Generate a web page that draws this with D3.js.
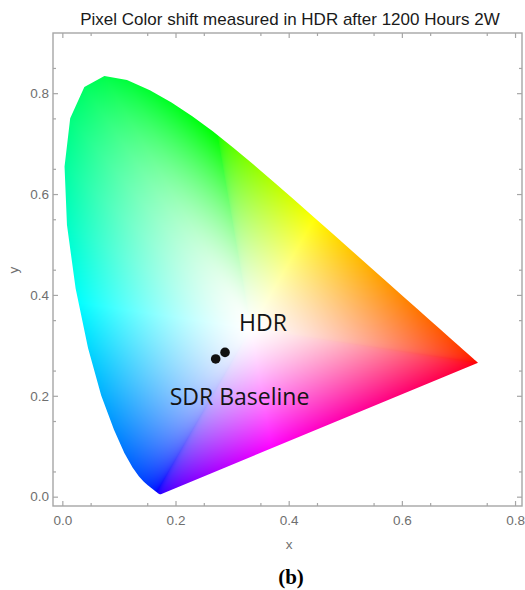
<!DOCTYPE html>
<html>
<head>
  <meta charset="utf-8">
  <title>Pixel Color shift measured in HDR after 1200 Hours 2W</title>
  <script src="https://d3js.org/d3.v7.min.js"></script>
  <style>
    body { margin: 0; background: #fff; }
  </style>
</head>
<body>
  <svg id="chart" width="525" height="590"></svg>

  <script>
    // CIE 1931 spectral locus, 380-700 nm in 5 nm steps
    var locusX = [0.1741, 0.1740, 0.1738, 0.1736, 0.1733, 0.1730, 0.1726, 0.1721, 0.1714, 0.1703,
                  0.1689, 0.1669, 0.1644, 0.1611, 0.1566, 0.1510, 0.1440, 0.1355, 0.1241, 0.1096,
                  0.0913, 0.0687, 0.0454, 0.0235, 0.0082, 0.0039, 0.0139, 0.0389, 0.0743, 0.1142,
                  0.1547, 0.1929, 0.2296, 0.2658, 0.3016, 0.3373, 0.3731, 0.4087, 0.4441, 0.4788,
                  0.5125, 0.5448, 0.5752, 0.6029, 0.6270, 0.6482, 0.6658, 0.6801, 0.6915, 0.7006,
                  0.7079, 0.7140, 0.7190, 0.7230, 0.7260, 0.7283, 0.7300, 0.7311, 0.7320, 0.7327,
                  0.7334, 0.7340, 0.7344, 0.7346, 0.7347];
    var locusY = [0.0050, 0.0050, 0.0049, 0.0049, 0.0048, 0.0048, 0.0048, 0.0048, 0.0051, 0.0058,
                  0.0069, 0.0086, 0.0109, 0.0138, 0.0177, 0.0227, 0.0297, 0.0399, 0.0578, 0.0868,
                  0.1327, 0.2007, 0.2950, 0.4127, 0.5384, 0.6548, 0.7502, 0.8120, 0.8338, 0.8262,
                  0.8059, 0.7816, 0.7543, 0.7243, 0.6923, 0.6589, 0.6245, 0.5896, 0.5547, 0.5202,
                  0.4866, 0.4544, 0.4242, 0.3965, 0.3725, 0.3514, 0.3340, 0.3197, 0.3083, 0.2993,
                  0.2920, 0.2859, 0.2809, 0.2770, 0.2740, 0.2717, 0.2700, 0.2689, 0.2680, 0.2673,
                  0.2666, 0.2660, 0.2656, 0.2654, 0.2653];

    // measured chromaticity points
    var pointNames = ["SDR Baseline", "HDR"];
    var pointX = [0.271, 0.2875];
    var pointY = [0.273, 0.286];

    var xTicks = [0.0, 0.2, 0.4, 0.6, 0.8];
    var yTicks = [0.0, 0.2, 0.4, 0.6, 0.8];

    var W = 525, H = 590;
    var whiteX = 1 / 3, whiteY = 1 / 3;

    var svg = d3.select("#chart");

    // scales cover the whole frame
    var x = d3.scaleLinear().domain([-0.0165, 0.8123]).range([53, 522]);
    var y = d3.scaleLinear().domain([-0.0185, 0.9193]).range([506, 33]);

    var locus = locusX.map(function(d, i) { return [d, locusY[i]]; });

    // xy -> display rgb (0..1) through CIE RGB primaries, clipped, brightest channel = 1
    function gam(v) {
      return v <= 0.0031308 ? 12.92 * v : 1.055 * Math.pow(v, 1 / 2.4) - 0.055;
    }
    function xyToRgb(cx, cy) {
      var X = cx / cy, Z = (1 - cx - cy) / cy;
      var r = Math.max(0, 2.3646 * X - 0.8965 - 0.4681 * Z);
      var g = Math.max(0, -0.5152 * X + 1.4264 + 0.0888 * Z);
      var b = Math.max(0, 0.0052 * X - 0.0144 + 1.0092 * Z);
      var m = Math.max(r, g, b);
      return [gam(r / m), gam(g / m), gam(b / m)];
    }

    // paint the diagram: each pixel mixes white with the colour where
    // its ray from the white point meets the locus
    var canvas = document.createElement("canvas");
    canvas.width = W; canvas.height = H;
    var ctx = canvas.getContext("2d");
    var img = ctx.createImageData(W, H);
    var n = locus.length;
    var px0 = Math.floor(x(0)), px1 = Math.ceil(x(0.74));
    var py0 = Math.floor(y(0.84)), py1 = Math.ceil(y(0));
    for (var py = py0; py <= py1; py++) {
      for (var px = px0; px <= px1; px++) {
        var cx = x.invert(px + 0.5), cy = y.invert(py + 0.5);
        var dx = cx - whiteX, dy = cy - whiteY;
        var best = Infinity, bx = cx, by = cy;
        for (var i = 0; i < n; i++) {
          var a = locus[i], b = locus[(i + 1) % n];
          var ex = b[0] - a[0], ey = b[1] - a[1];
          var den = dx * ey - dy * ex;
          if (Math.abs(den) < 1e-12) continue;
          var wx = a[0] - whiteX, wy = a[1] - whiteY;
          var s = (wx * ey - wy * ex) / den;
          var u = (wx * dy - wy * dx) / den;
          if (s > 0 && u >= 0 && u <= 1 && s < best) {
            best = s; bx = a[0] + u * ex; by = a[1] + u * ey;
          }
        }
        var t = best === Infinity ? 1 : Math.min(1, 1 / best);
        t = Math.pow(t, 1.35);
        var c = xyToRgb(bx, Math.max(by, 0.003));
        var k = (py * W + px) * 4;
        img.data[k] = 255 * (1 - t + t * c[0]);
        img.data[k + 1] = 255 * (1 - t + t * c[1]);
        img.data[k + 2] = 255 * (1 - t + t * c[2]);
        img.data[k + 3] = 255;
      }
    }
    ctx.putImageData(img, 0, 0);

    var line = d3.line().x(function(d) { return x(d[0]); }).y(function(d) { return y(d[1]); });

    svg.append("clipPath").attr("id", "locusClip")
      .append("path").attr("d", line(locus) + "Z");

    svg.append("image")
      .attr("x", 0).attr("y", 0)
      .attr("width", W).attr("height", H)
      .attr("href", canvas.toDataURL())
      .attr("clip-path", "url(#locusClip)");

    // frame and ticks
    var axisColor = "#a6a6a6";
    var fmt = d3.format(".1f");
    var xMinor = d3.range(0.05, 0.81, 0.1);
    var yMinor = d3.range(0.05, 0.91, 0.1);

    function styleAxis(g) {
      g.select(".domain").remove();
      g.selectAll("line").attr("stroke", axisColor).attr("stroke-width", 1.2);
      g.selectAll("text")
        .attr("fill", "#6f6f6f")
        .style("font-family", "'Liberation Sans', Arial, sans-serif")
        .style("font-size", "13.5px");
    }

    svg.append("g").attr("transform", "translate(0,506)")
      .call(d3.axisBottom(x).tickValues(xTicks).tickSize(-5).tickPadding(9).tickFormat(fmt))
      .call(styleAxis);
    svg.append("g").attr("transform", "translate(0,506)")
      .call(d3.axisBottom(x).tickValues(xMinor).tickSize(-3).tickFormat(""))
      .call(styleAxis);
    svg.append("g").attr("transform", "translate(0,33)")
      .call(d3.axisTop(x).tickValues(xTicks).tickSize(-5).tickFormat(""))
      .call(styleAxis);
    svg.append("g").attr("transform", "translate(0,33)")
      .call(d3.axisTop(x).tickValues(xMinor).tickSize(-3).tickFormat(""))
      .call(styleAxis);

    svg.append("g").attr("transform", "translate(53,0)")
      .call(d3.axisLeft(y).tickValues(yTicks).tickSize(-5).tickPadding(4).tickFormat(fmt))
      .call(styleAxis);
    svg.append("g").attr("transform", "translate(53,0)")
      .call(d3.axisLeft(y).tickValues(yMinor).tickSize(-3).tickFormat(""))
      .call(styleAxis);
    svg.append("g").attr("transform", "translate(522,0)")
      .call(d3.axisRight(y).tickValues(yTicks).tickSize(-5).tickFormat(""))
      .call(styleAxis);
    svg.append("g").attr("transform", "translate(522,0)")
      .call(d3.axisRight(y).tickValues(yMinor).tickSize(-3).tickFormat(""))
      .call(styleAxis);

    svg.append("rect")
      .attr("x", 53).attr("y", 33)
      .attr("width", 522 - 53).attr("height", 506 - 33)
      .attr("fill", "none")
      .attr("stroke", axisColor)
      .attr("stroke-width", 1.4);

    // points
    svg.selectAll("circle.pt")
      .data(pointNames)
      .enter()
      .append("circle")
      .attr("class", "pt")
      .attr("cx", function(d, i) { return x(pointX[i]); })
      .attr("cy", function(d, i) { return y(pointY[i]); })
      .attr("r", 4.8)
      .attr("fill", "#111");

    // point labels
    var labelDx = [-46, 14], labelDy = [46, -21.6];
    svg.selectAll("text.lbl")
      .data(pointNames)
      .enter()
      .append("text")
      .attr("class", "lbl")
      .attr("x", function(d, i) { return x(pointX[i]) + labelDx[i]; })
      .attr("y", function(d, i) { return y(pointY[i]) + labelDy[i]; })
      .attr("fill", "#141414")
      .style("font-family", "'Open Sans', sans-serif")
      .style("font-size", "23px")
      .text(function(d) { return d; });

    // titles
    svg.append("text")
      .attr("x", 290).attr("y", 25)
      .attr("text-anchor", "middle")
      .attr("fill", "#1a1a1a")
      .style("font-family", "'Liberation Sans', Arial, sans-serif")
      .style("font-size", "17px")
      .text("Pixel Color shift measured in HDR after 1200 Hours 2W");

    svg.append("text")
      .attr("x", 289).attr("y", 549)
      .attr("text-anchor", "middle")
      .attr("fill", "#6f6f6f")
      .style("font-family", "'Liberation Sans', Arial, sans-serif")
      .style("font-size", "13.5px")
      .text("x");

    svg.append("text")
      .attr("transform", "translate(18,270) rotate(-90)")
      .attr("text-anchor", "middle")
      .attr("fill", "#6f6f6f")
      .style("font-family", "'Liberation Sans', Arial, sans-serif")
      .style("font-size", "13.5px")
      .text("y");

    svg.append("text")
      .attr("x", 291).attr("y", 584)
      .attr("text-anchor", "middle")
      .attr("fill", "#000")
      .style("font-family", "'Liberation Serif', 'Times New Roman', serif")
      .style("font-weight", "bold")
      .style("font-size", "21px")
      .text("(b)");
  </script>
</body>
</html>
